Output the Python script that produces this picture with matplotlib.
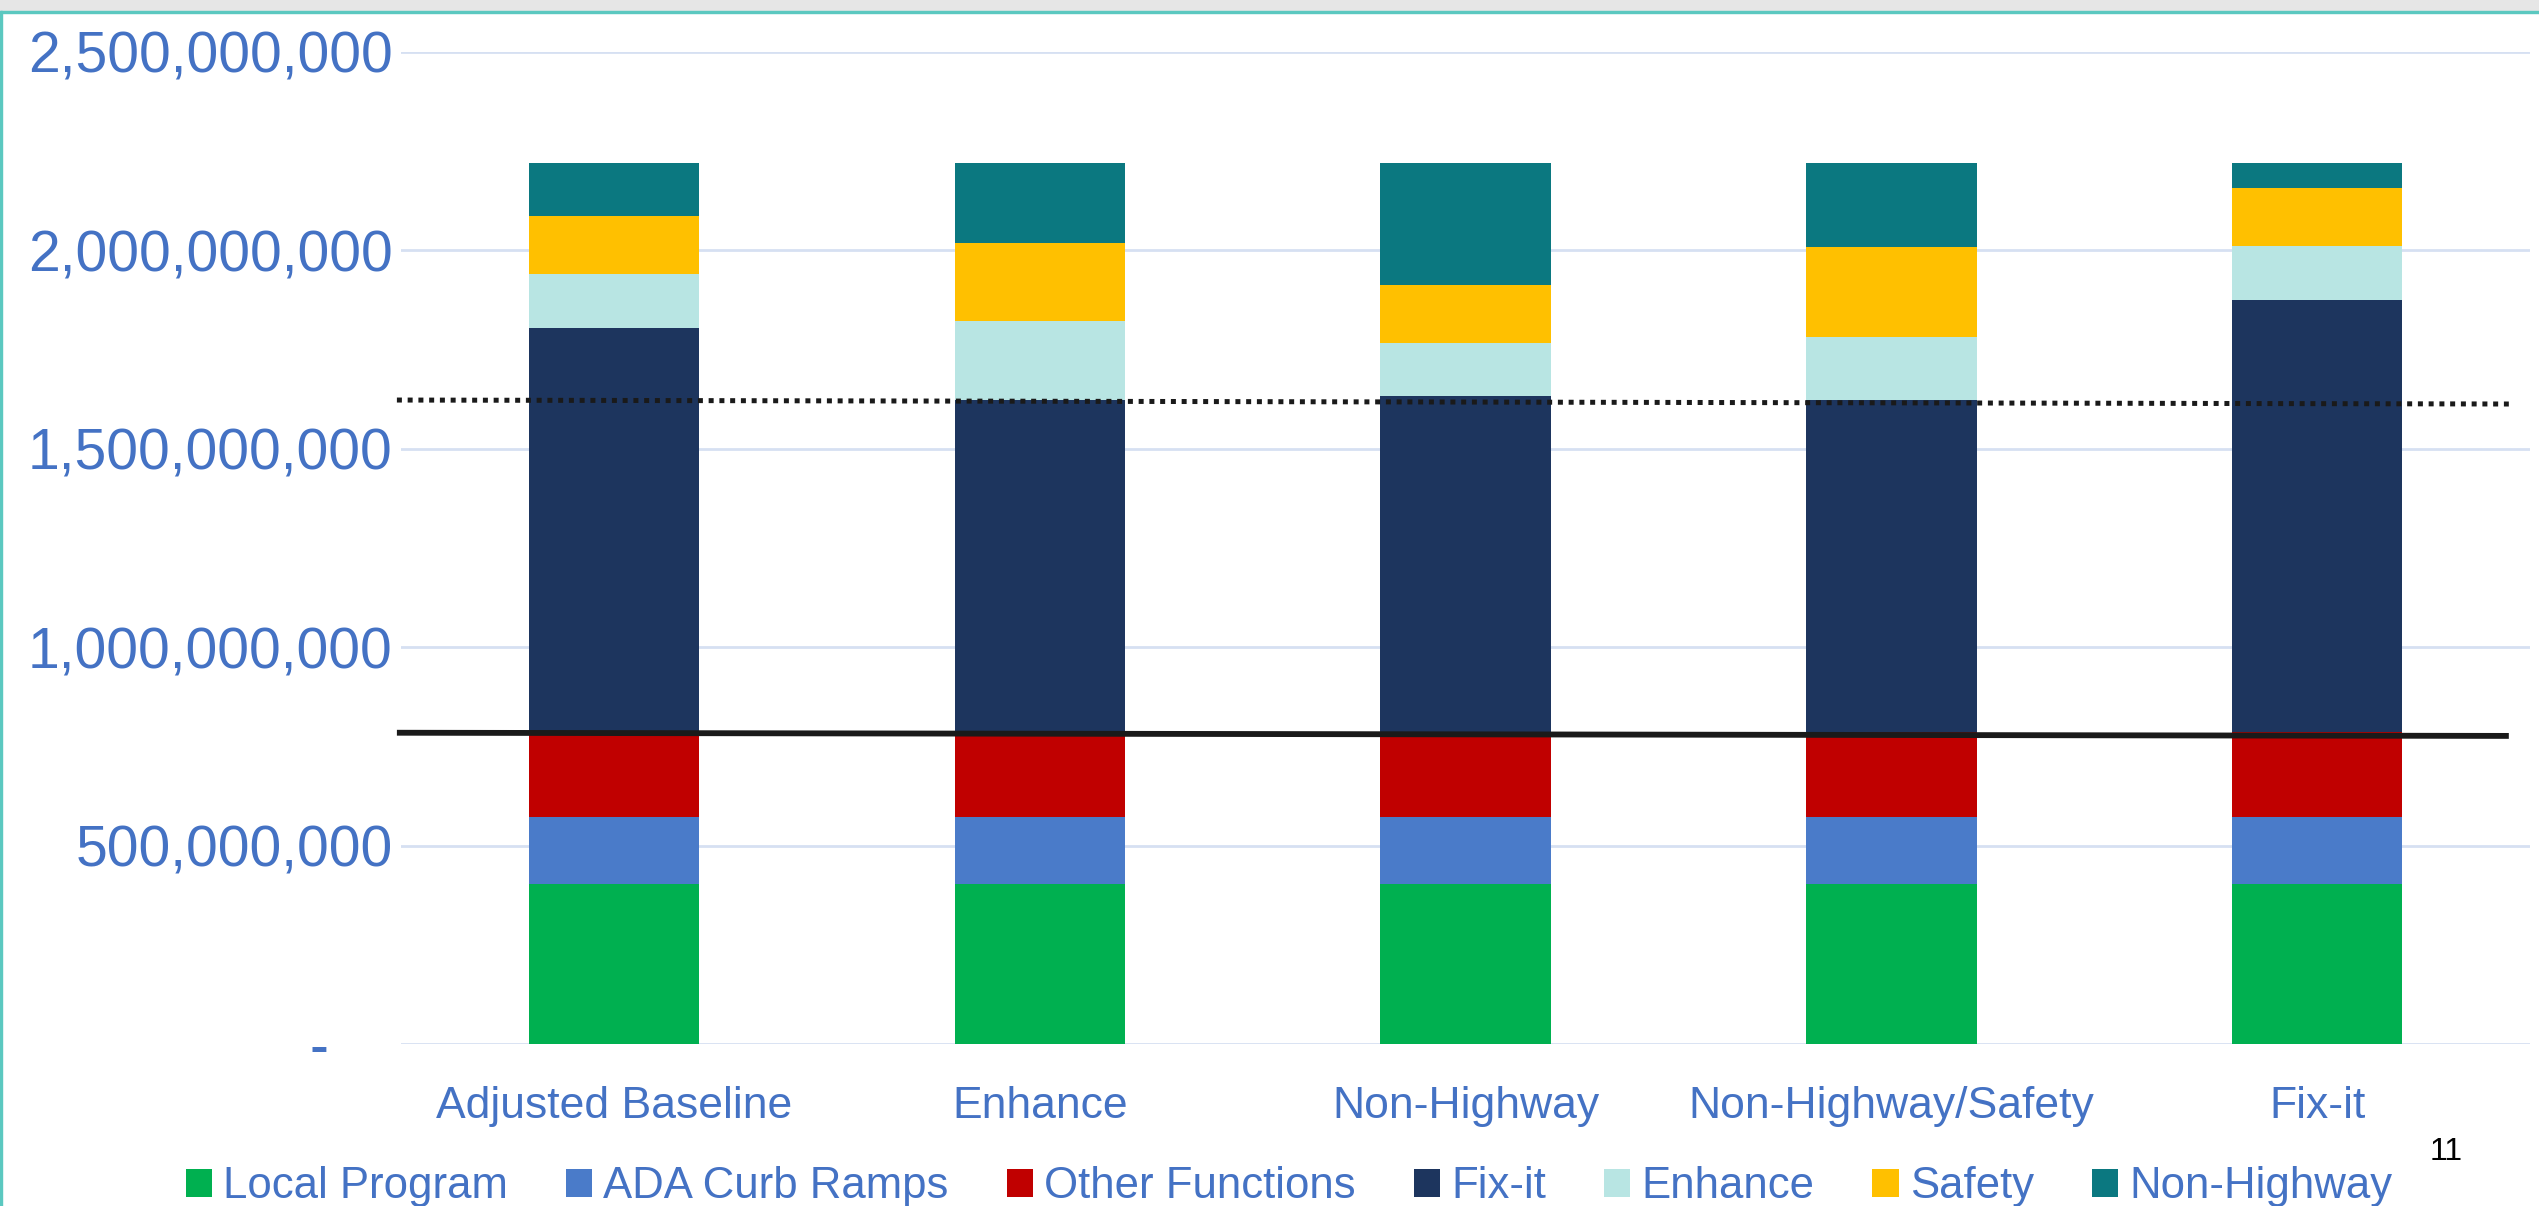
import matplotlib
matplotlib.use("Agg")
import matplotlib.pyplot as plt
import numpy as np
from matplotlib.patches import Rectangle
from matplotlib.ticker import FuncFormatter

plt.rcParams['font.family'] = ['Liberation Sans', 'DejaVu Sans']

# data (dollars)
categories = ["Adjusted Baseline", "Enhance", "Non-Highway", "Non-Highway/Safety", "Fix-it"]
local_program = [403e6, 403e6, 403e6, 403e6, 403e6]
ada_curb = [171e6, 171e6, 171e6, 171e6, 171e6]
other_funcs = [213e6, 213e6, 213e6, 213e6, 213e6]
fix_it = [1017e6, 835e6, 845e6, 836e6, 1087e6]
enhance = [136e6, 199e6, 134e6, 159e6, 136e6]
safety = [146e6, 198e6, 146e6, 227e6, 146e6]
non_highway = [133e6, 200e6, 307e6, 210e6, 63e6]

series_names = ["Local Program", "ADA Curb Ramps", "Other Functions", "Fix-it",
                "Enhance", "Safety", "Non-Highway"]
colors = ["#00B050", "#4A7BC9", "#C00000", "#1D355E", "#B8E5E3", "#FFC000", "#0B7880"]

# reference lines (left end, right end)
line_x = [-0.51, 4.45]
dotted_level = [1.623e9, 1.613e9]
solid_level = [0.785e9, 0.777e9]

yticks = [0, 500e6, 1000e6, 1500e6, 2000e6, 2500e6]

blue_txt = "#4472C4"

fig = plt.figure(figsize=(25.39, 12.06), dpi=100)
ax = fig.add_axes([0.158, 0.134, 0.8385, 0.823])

x = np.arange(len(categories))
bottom = np.zeros(len(categories))
for vals, name, c in zip([local_program, ada_curb, other_funcs, fix_it, enhance, safety, non_highway],
                         series_names, colors):
    ax.bar(x, vals, 0.4, bottom=bottom, color=c, label=name, zorder=2, linewidth=0)
    bottom += np.array(vals)

ax.plot(line_x, dotted_level, color="#1a1a1a", lw=3.6, linestyle=(0, (1, 1.15)),
        dash_capstyle="butt", zorder=3, clip_on=False)
ax.plot(line_x, solid_level, color="#1a1a1a", lw=4.2, zorder=3, clip_on=False,
        solid_capstyle="butt")

ax.set_xlim(-0.5, 4.5)
ax.set_ylim(0, 2.5e9)
ax.set_yticks(yticks)
ax.yaxis.set_major_formatter(FuncFormatter(lambda v, p: "-    " if v == 0 else f"{v:,.0f}"))
ax.set_xticks(x)
ax.set_xticklabels(categories)
ax.tick_params(axis="y", length=0, pad=6, labelsize=41, labelcolor=blue_txt)
ax.tick_params(axis="x", length=0, pad=30, labelsize=32, labelcolor=blue_txt)
ax.grid(axis="y", color="#D6E0F2", lw=2, zorder=0)
ax.set_axisbelow(True)
for s in ax.spines.values():
    s.set_visible(False)

handles, labels = ax.get_legend_handles_labels()
fig.legend(handles, labels, loc="center", bbox_to_anchor=(0.5077, 0.016), ncol=7,
           frameon=False, fontsize=31.5, labelcolor=blue_txt, handlelength=0.6,
           handleheight=0.6, handletextpad=0.25, columnspacing=1.33, borderpad=0)

fig.text(0.9634, 0.0444, "11", fontsize=23, color="black", ha="center", va="center")

# slide frame
fig.patches.append(Rectangle((0, 1 - 11 / 1206), 1, 11 / 1206, transform=fig.transFigure,
                             color="#E6E6E6", zorder=0))
fig.patches.append(Rectangle((0, 1 - 13 / 1206), 1, 2 / 1206, transform=fig.transFigure,
                             color="#5BC8C0", zorder=0))
fig.patches.append(Rectangle((0, 0), 2 / 2539, 1 - 11 / 1206, transform=fig.transFigure,
                             color="#5BC8C0", zorder=0))

fig.savefig("out.png", dpi=100)
